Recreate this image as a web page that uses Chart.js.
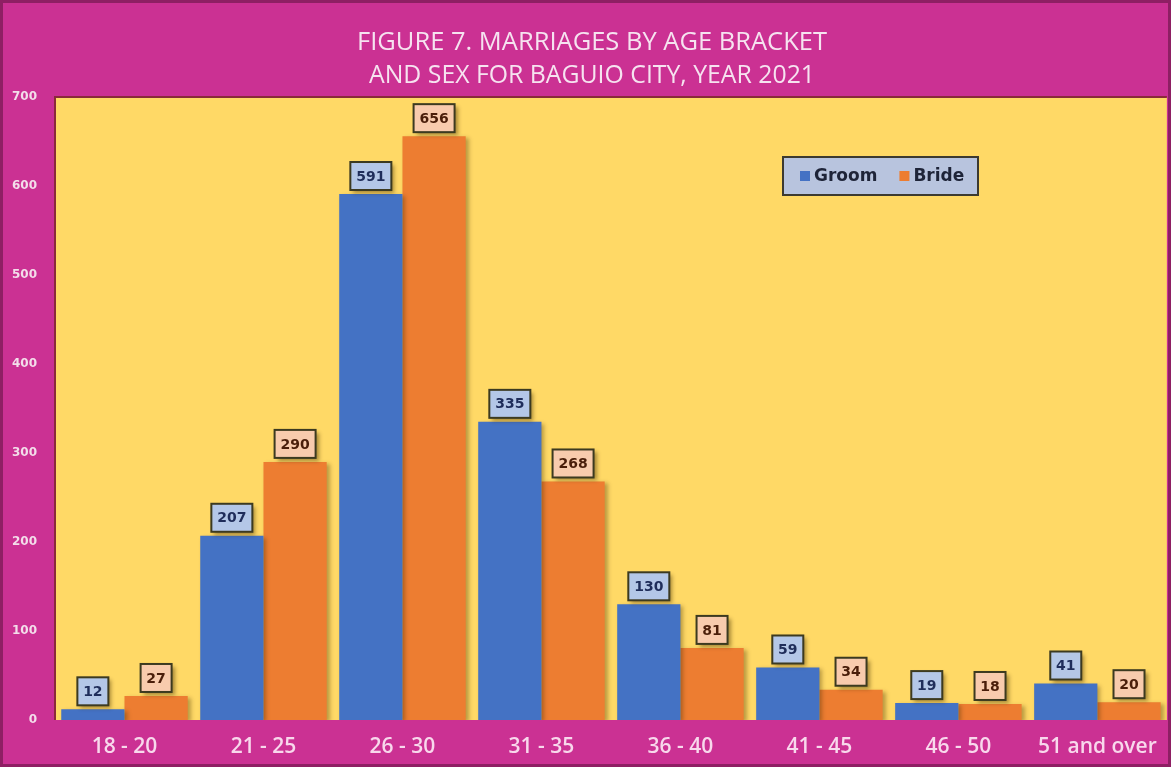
<!DOCTYPE html>
<html>
<head>
<meta charset="utf-8">
<script src="https://cdn.jsdelivr.net/npm/chart.js@4"></script>
<style>
  html, body { margin: 0; padding: 0; background: #CB3193; }
  #wrap { width: 1171px; height: 767px; position: relative; }
</style>
</head>
<body>
<div id="wrap"><canvas id="chart" width="1171" height="767"></canvas></div>
<script>
// datos
const categories = ['18 - 20', '21 - 25', '26 - 30', '31 - 35', '36 - 40', '41 - 45', '46 - 50', '51 and over'];
const groom = [12, 207, 591, 335, 130, 59, 19, 41];
const bride = [27, 290, 656, 268, 81, 34, 18, 20];
const yTicks = [0, 100, 200, 300, 400, 500, 600, 700];
const titleLines = ['FIGURE 7. MARRIAGES BY AGE BRACKET', 'AND SEX FOR BAGUIO CITY, YEAR 2021'];

const MAGENTA = '#CB3193';
const PLOT_BG = '#FFD966';

// fondo, marco, titulo, leyenda y etiquetas
const decoPlugin = {
    id: 'deco',
    beforeDraw(chart) {
        const ctx = chart.ctx;
        const a = chart.chartArea;
        ctx.save();
        ctx.fillStyle = MAGENTA;
        ctx.fillRect(0, 0, chart.width, chart.height);
        ctx.strokeStyle = '#8E1F63';
        ctx.lineWidth = 3;
        ctx.strokeRect(1.5, 1.5, chart.width - 3, chart.height - 3);
        ctx.fillStyle = PLOT_BG;
        ctx.fillRect(a.left, a.top, a.right - a.left, a.bottom - a.top);
        ctx.strokeStyle = '#8A2A3A';
        ctx.lineWidth = 2;
        ctx.beginPath();
        ctx.moveTo(a.left, a.bottom);
        ctx.lineTo(a.left, a.top);
        ctx.lineTo(a.right, a.top);
        ctx.stroke();
        // titulo
        ctx.fillStyle = '#F6E3F0';
        ctx.font = '26px "Liberation Sans Narrow", "Open Sans", sans-serif';
        ctx.textAlign = 'center';
        ctx.textBaseline = 'middle';
        ctx.fillText(titleLines[0], 592, 43, 470);
        ctx.fillText(titleLines[1], 592, 76, 446);
        ctx.restore();
    },
    beforeDatasetsDraw(chart) {
        const ctx = chart.ctx;
        ctx.save();
        ctx.shadowColor = 'rgba(60,40,0,0.35)';
        ctx.shadowOffsetX = 3;
        ctx.shadowOffsetY = 2;
        ctx.shadowBlur = 4;
    },
    afterDatasetsDraw(chart) {
        const ctx = chart.ctx;
        ctx.restore();
        const boxFill = ['#B4C7E7', '#F8CBAD'];
        const txtCol = ['#1F2D5A', '#4A1E0A'];
        chart.data.datasets.forEach((ds, di) => {
            const meta = chart.getDatasetMeta(di);
            meta.data.forEach((bar, i) => {
                const txt = String(ds.data[i]);
                ctx.save();
                ctx.font = 'bold 14px "DejaVu Sans", sans-serif';
                const w = Math.round(ctx.measureText(txt).width) + 12, h = 28;
                const x = bar.x - w / 2;
                const y = bar.y - 4 - h;
                ctx.shadowColor = 'rgba(60,40,0,0.45)';
                ctx.shadowOffsetX = 3;
                ctx.shadowOffsetY = 3;
                ctx.shadowBlur = 4;
                ctx.fillStyle = boxFill[di];
                ctx.fillRect(x, y, w, h);
                ctx.restore();
                ctx.save();
                ctx.strokeStyle = '#3C3A20';
                ctx.lineWidth = 2;
                ctx.strokeRect(x, y, w, h);
                ctx.fillStyle = txtCol[di];
                ctx.font = 'bold 14px "DejaVu Sans", sans-serif';
                ctx.textAlign = 'center';
                ctx.textBaseline = 'middle';
                ctx.fillText(txt, bar.x, y + h / 2 + 1);
                ctx.restore();
            });
        });
        // leyenda
        ctx.save();
        ctx.fillStyle = '#B8C4DE';
        ctx.fillRect(783, 157, 195, 38);
        ctx.strokeStyle = '#3C3A30';
        ctx.lineWidth = 2;
        ctx.strokeRect(783, 157, 195, 38);
        ctx.font = 'bold 17px "DejaVu Sans", sans-serif';
        ctx.textBaseline = 'middle';
        ctx.textAlign = 'left';
        let lx = 800;
        chart.data.datasets.forEach((ds) => {
            ctx.fillStyle = ds.backgroundColor;
            ctx.fillRect(lx, 171, 10, 10);
            ctx.fillStyle = '#1E2438';
            ctx.fillText(ds.label, lx + 14, 177);
            lx += 14 + ctx.measureText(ds.label).width + 22;
        });
        ctx.restore();
    }
};

new Chart(document.getElementById('chart'), {
    type: 'bar',
    data: {
        labels: categories,
        datasets: [
            { label: 'Groom', data: groom, backgroundColor: '#4472C4' },
            { label: 'Bride', data: bride, backgroundColor: '#ED7D31' }
        ]
    },
    options: {
        responsive: false,
        animation: false,
        events: [],
        layout: { padding: { top: 97, right: 4, left: 0, bottom: 0 } },
        datasets: { bar: { categoryPercentage: 0.91, barPercentage: 1.0 } },
        plugins: { legend: { display: false }, title: { display: false }, tooltip: { enabled: false } },
        scales: {
            x: {
                grid: { display: false, drawTicks: false },
                border: { display: false },
                ticks: { color: '#F8D8EC', font: { family: '"Open Sans", "Liberation Sans", sans-serif', size: 21, weight: '600' }, padding: 14 },
                afterFit: (s) => { s.height = 47; }
            },
            y: {
                min: 0, max: 700,
                grid: { display: false, drawTicks: false },
                border: { display: false },
                afterBuildTicks: (s) => { s.ticks = yTicks.map(v => ({ value: v })); },
                ticks: { color: '#F3DDEA', font: { family: '"DejaVu Sans", sans-serif', size: 12, weight: 'bold' }, padding: 18 },
                afterFit: (s) => { s.width = 55; }
            }
        }
    },
    plugins: [decoPlugin]
});
</script>
</body>
</html>
